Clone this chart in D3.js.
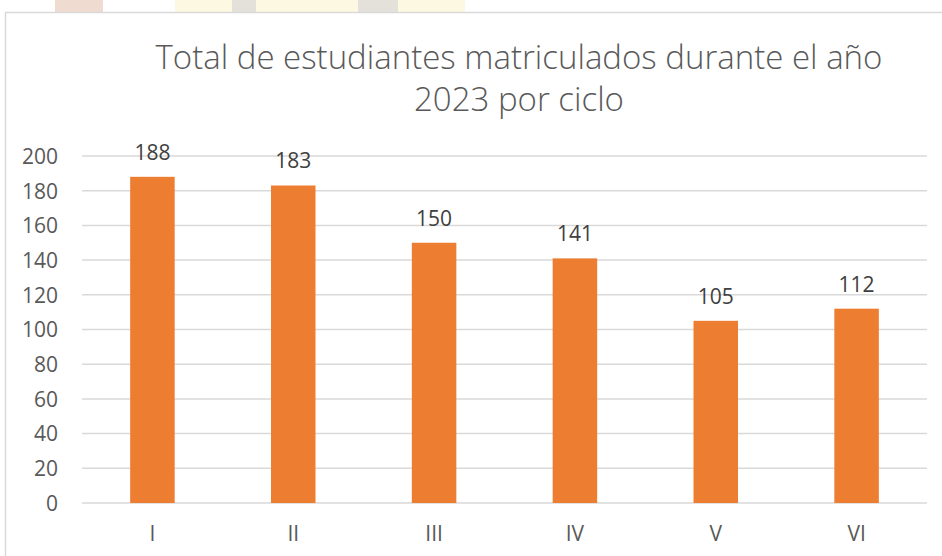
<!DOCTYPE html>
<html><head><meta charset="utf-8">
<script src="https://cdn.jsdelivr.net/npm/d3@7"></script>
<style>body{margin:0;background:#fff;}svg{display:block;}</style>
</head><body>
<svg id="c" width="942" height="556"></svg>
<script>
const categories = ["I","II","III","IV","V","VI"];
const values = [188,183,150,141,105,112];
const yTicks = [0,20,40,60,80,100,120,140,160,180,200];
const titleLines = ["Total de estudiantes matriculados durante el año","2023 por ciclo"];

const svg = d3.select("#c");
const W = 942, H = 556;
const font = "'Open Sans', sans-serif";

// faint watermark fragments above the chart frame
const wm = svg.append("g").attr("opacity",0.22);
wm.append("rect").attr("x",55).attr("y",0).attr("width",48).attr("height",12).attr("fill","#b8602a");
wm.append("rect").attr("x",175).attr("y",0).attr("width",290).attr("height",12).attr("fill","#f3e27a");
wm.append("rect").attr("x",232).attr("y",0).attr("width",24).attr("height",12).attr("fill","#8a7a60");
wm.append("rect").attr("x",358).attr("y",0).attr("width",40).attr("height",12).attr("fill","#8a7a60");

// frame
svg.append("rect").attr("x",5.5).attr("y",12.5).attr("width",W).attr("height",H)
  .attr("fill","#fff").attr("stroke","#d9d9d9").attr("stroke-width",1.5);

const x = d3.scaleBand().domain(categories).range([82,927]).paddingInner(0.684).paddingOuter(0.342);
const y = d3.scaleLinear().domain([0,200]).range([503,156]);

// gridlines
svg.append("g").selectAll("line").data(yTicks).join("line")
  .attr("x1",82).attr("x2",927)
  .attr("y1",d=>y(d)).attr("y2",d=>y(d))
  .attr("stroke","#d9d9d9").attr("stroke-width",1.5);

// y axis labels
const yAxis = d3.axisLeft(y).tickValues(yTicks).tickSize(0).tickPadding(0);
const ya = svg.append("g").attr("transform","translate(58,0)").call(yAxis);
ya.select(".domain").remove();
ya.selectAll("text").attr("font-family",font).attr("font-size",21).attr("fill","#595959").attr("dy","0.35em");

// x axis labels
const xAxis = d3.axisBottom(x).tickSize(0).tickPadding(0);
const xa = svg.append("g").attr("transform","translate(0,526)").call(xAxis);
xa.select(".domain").remove();
xa.selectAll("text").attr("font-family",font).attr("font-size",21).attr("fill","#595959").attr("dy","0.71em");

// labels
svg.append("g").selectAll("text").data(values).join("text")
  .attr("x",(d,i)=>x(categories[i])+x.bandwidth()/2)
  .attr("y",d=>y(d)-17)
  .attr("text-anchor","middle")
  .attr("font-family",font).attr("font-size",21).attr("fill","#404040")
  .text(d=>d);

// bars
svg.append("g").selectAll("rect").data(values).join("rect")
  .attr("x",(d,i)=>x(categories[i]))
  .attr("width",x.bandwidth())
  .attr("y",d=>y(d))
  .attr("height",d=>y(0)-y(d))
  .attr("fill","#ED7D31");

// title
svg.append("g").selectAll("text").data(titleLines).join("text")
  .attr("x",519).attr("y",(d,i)=>69+i*42)
  .attr("text-anchor","middle")
  .attr("font-family",font).attr("font-weight",300).attr("font-size",33).attr("fill","#595959")
  .text(d=>d);
</script>
</body></html>
